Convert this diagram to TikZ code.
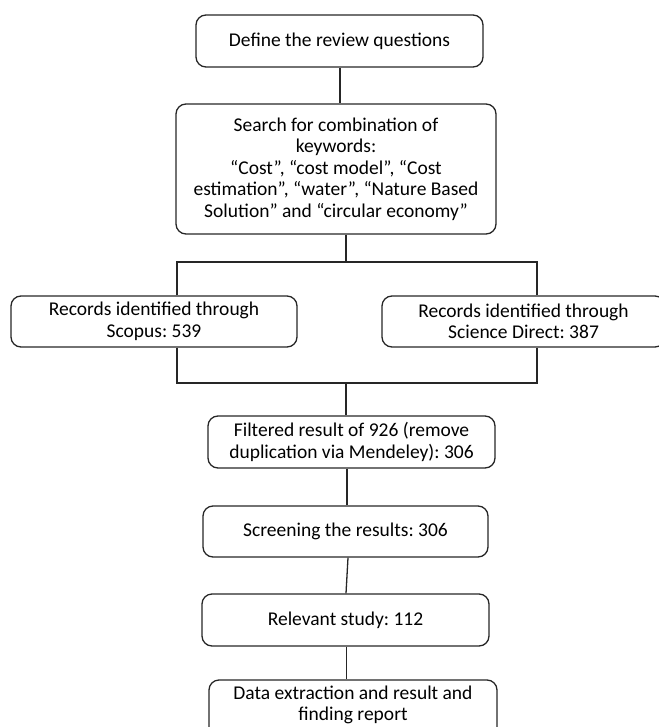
\documentclass[tikz,border=0pt]{standalone}
\usepackage{fontspec}
\setmainfont{Carlito}
\frenchspacing
\begin{document}
\begin{tikzpicture}[x=1pt,y=-1pt,
  box/.style={draw=black!85, line width=1.3pt, rounded corners=10pt, inner sep=0pt, align=center, font=\fontsize{19.5}{21.5}\selectfont},
  boxtext/.style={inner sep=0pt, align=center, font=\fontsize{19.5}{21.5}\selectfont},
  conn/.style={draw=black!85, line width=1.3pt}]
\useasboundingbox (0,0) rectangle (658,727);
\node[box, minimum width=287pt, minimum height=52pt] (b1) at (339.5,41) {Define the review questions};
\node[box, minimum width=320pt, minimum height=130pt] (b2) at (336,169) {Search for combination of\\keywords:\\“Cost”, “cost model”, “Cost\\estimation”, “water”, “Nature Based\\Solution” and “circular economy”};
\node[box, minimum width=286pt, minimum height=51pt] (l) at (154,321.5) {Records identified through\\Scopus: 539};
\node[box, minimum width=283pt, minimum height=51pt] (r) at (523.5,321.5) {Records identified through\\Science Direct: 387};
\node[box, minimum width=287pt, minimum height=52pt] (f) at (351.5,442) {Filtered result of 926 (remove\\duplication via Mendeley): 306};
\node[box, minimum width=285pt, minimum height=51pt] (s) at (345.5,531.5) {Screening the results: 306};
\node[box, minimum width=287pt, minimum height=52pt] (rel) at (345.5,620) {Relevant study: 112};
\node[box, minimum width=288pt, minimum height=64pt] (d) at (353,712) {};
\node[boxtext] (dt) at (353,705) {Data extraction and result and\\finding report};
\coordinate (j1) at (346,262);
\coordinate (j1l) at (177,262);
\coordinate (j1r) at (537,262);
\coordinate (j2) at (346,383);
\coordinate (j2l) at (177,383);
\coordinate (j2r) at (537,383);
\draw[conn] (b1.south -| 340,0) -- (b2.north -| 340,0);
\draw[conn] (b2.south -| j1) -- (j1);
\draw[conn] (l.north -| j1l) -- (j1l) -- (j1r) -- (r.north -| j1r);
\draw[conn] (l.south -| j2l) -- (j2l) -- (j2r) -- (r.south -| j2r);
\draw[conn] (j2) -- (f.north -| j2);
\draw[conn] (f.south -| 347,0) -- (s.north -| 347,0);
\draw[conn] (s.south -| 348,0) -- (rel.north -| 346,0);
\draw[conn] (rel.south -| 346.5,0) -- (d.north -| 346.5,0);
\end{tikzpicture}
\end{document}
